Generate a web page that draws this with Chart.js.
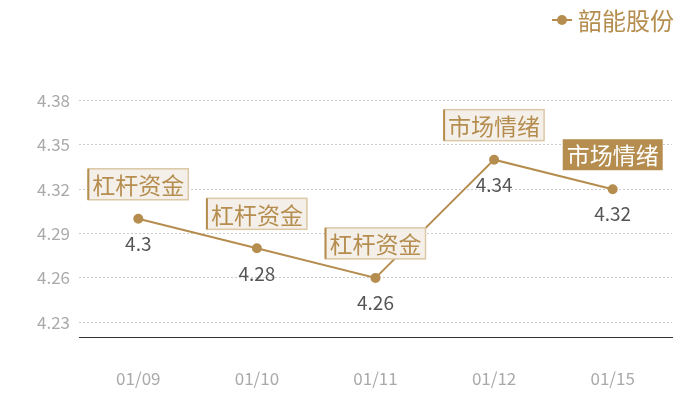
<!DOCTYPE html>
<html>
<head>
<meta charset="utf-8">
<script src="https://cdn.jsdelivr.net/npm/chart.js@4/dist/chart.umd.min.js"></script>
<style>
  html, body { margin: 0; padding: 0; background: #fff; }
  #wrap { width: 700px; height: 400px; }
</style>
</head>
<body>
<div id="wrap"><canvas id="c" width="700" height="400"></canvas></div>
<script>
// --- datos ---
const dates = ["01/09", "01/10", "01/11", "01/12", "01/15"];
const prices = [4.3, 4.28, 4.26, 4.34, 4.32];
const tags = ["杠杆资金", "杠杆资金", "杠杆资金", "市场情绪", "市场情绪"];
const tagHighlight = [false, false, false, false, true];
const yTicks = [4.23, 4.26, 4.29, 4.32, 4.35, 4.38];
const seriesName = "韶能股份";

const gold = "#b58d4f";
const fontFam = "'Noto Sans CJK SC', 'Noto Sans', sans-serif";

// --- plugin: etiquetas, cajas y leyenda ---
const labelsPlugin = {
    id: "labelsPlugin",
    afterDatasetsDraw(chart) {
        const ctx = chart.ctx;
        const meta = chart.getDatasetMeta(0);
        ctx.save();
        meta.data.forEach((pt, i) => {
            // valor debajo del punto
            ctx.font = "19px " + fontFam;
            ctx.fillStyle = "#555";
            ctx.textAlign = "center";
            ctx.textBaseline = "middle";
            ctx.fillText(String(prices[i]), pt.x, pt.y + 25);

            // caja con el tag encima
            ctx.font = "23px " + fontFam;
            const w = ctx.measureText(tags[i]).width + 8;
            const h = 31;
            const bx = pt.x - w / 2;
            const by = pt.y - 19 - h;
            if (tagHighlight[i]) {
                ctx.fillStyle = gold;
                ctx.fillRect(bx, by, w, h);
                ctx.fillStyle = "#fff";
            } else {
                ctx.fillStyle = "#f4efe8";
                ctx.fillRect(bx, by, w, h);
                ctx.strokeStyle = "#dcc8a6";
                ctx.lineWidth = 1.5;
                ctx.strokeRect(bx, by, w, h);
                ctx.fillStyle = gold;
                ctx.fillRect(bx - 1, by, 2, h);
                ctx.fillStyle = gold;
            }
            ctx.fillText(tags[i], pt.x, by + h / 2 + 1);
        });

        // leyenda arriba a la derecha
        const lx = 552, ly = 20;
        ctx.strokeStyle = gold;
        ctx.lineWidth = 2;
        ctx.beginPath();
        ctx.moveTo(lx, ly);
        ctx.lineTo(lx + 20, ly);
        ctx.stroke();
        ctx.fillStyle = gold;
        ctx.beginPath();
        ctx.arc(lx + 10, ly, 5, 0, Math.PI * 2);
        ctx.fill();
        ctx.font = "24px " + fontFam;
        ctx.textAlign = "left";
        ctx.textBaseline = "middle";
        ctx.fillText(seriesName, lx + 26, ly + 1);
        ctx.restore();
    },
};

new Chart(document.getElementById("c"), {
    type: "line",
    data: {
        labels: dates,
        datasets: [
            {
                label: seriesName,
                data: prices,
                borderColor: gold,
                backgroundColor: gold,
                borderWidth: 2,
                pointRadius: 4,
                pointHoverRadius: 4,
                tension: 0,
            },
        ],
    },
    options: {
        responsive: false,
        animation: false,
        layout: { padding: { top: 71, right: 28, left: 0, bottom: 0 } },
        plugins: {
            legend: { display: false },
            tooltip: { enabled: false },
        },
        scales: {
            x: {
                offset: true,
                grid: { display: false },
                border: { display: true, color: "#333", width: 1 },
                ticks: {
                    color: "#aaa",
                    font: { size: 17, family: fontFam },
                    padding: 23,
                },
                afterFit(scale) {
                    scale.height = 63;
                },
            },
            y: {
                min: 4.22,
                max: 4.4,
                afterBuildTicks(scale) {
                    scale.ticks = yTicks.map((v) => ({ value: v }));
                },
                grid: {
                    color: "#ccc",
                    drawTicks: false,
                },
                border: { display: false, dash: [2, 2] },
                ticks: {
                    color: "#aaa",
                    font: { size: 17, family: fontFam },
                    padding: 9,
                    callback: (v) => v.toFixed(2),
                },
                afterFit(scale) {
                    scale.width = 79;
                },
            },
        },
    },
    plugins: [labelsPlugin],
});
</script>
</body>
</html>
